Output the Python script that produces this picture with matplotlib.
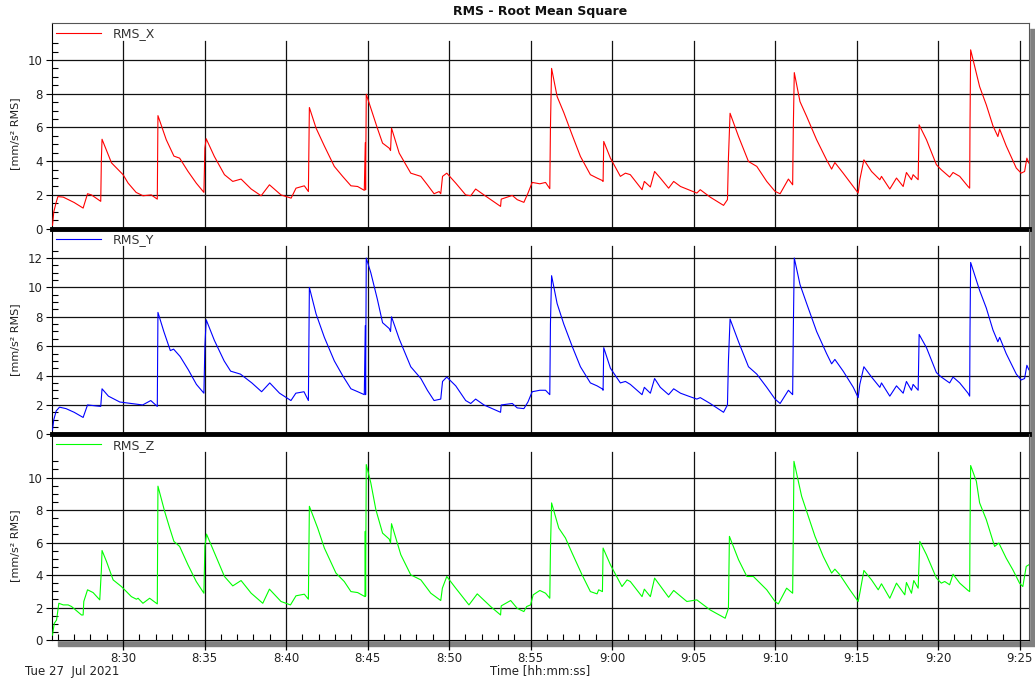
import matplotlib.pyplot as plt
from matplotlib.patches import Rectangle
from matplotlib.ticker import FixedLocator, MultipleLocator, FuncFormatter

# time in minutes after 8:00, value in mm/s² RMS
rms_x_points = [
    (25.67, 0.2), (25.75, 1.0), (25.88, 1.5), (26.0, 1.9), (26.33, 1.87), (27.0, 1.55),
    (27.55, 1.22), (27.82, 2.07), (28.06, 2.0), (28.63, 1.62), (28.67, 4.14), (28.71, 5.3),
    (29.29, 3.9), (30.0, 3.2), (30.31, 2.7), (30.8, 2.15), (31.22, 1.95), (31.73, 2.0),
    (32.1, 1.75), (32.14, 6.7), (32.65, 5.27), (33.12, 4.3), (33.47, 4.18), (33.98, 3.4),
    (34.49, 2.7), (34.96, 2.15), (35.02, 4.77), (35.1, 5.33), (35.6, 4.28), (36.22, 3.2),
    (36.73, 2.8), (37.24, 2.94), (37.86, 2.35), (38.47, 1.95), (38.98, 2.6), (39.69, 2.0),
    (40.31, 1.81), (40.61, 2.4), (41.12, 2.54), (41.37, 2.2), (41.43, 7.18), (41.84, 5.96),
    (42.35, 4.9), (42.96, 3.69), (43.47, 3.1), (43.98, 2.54), (44.39, 2.5), (44.8, 2.27),
    (44.86, 5.1), (44.88, 2.3), (44.9, 5.1), (44.92, 7.97), (45.2, 7.14), (45.6, 5.96),
    (45.92, 5.07), (46.33, 4.77), (46.41, 4.63), (46.47, 5.96), (46.94, 4.48), (47.65, 3.29),
    (48.27, 3.1), (48.67, 2.6), (49.08, 2.07), (49.39, 2.2), (49.49, 2.07), (49.6, 3.1),
    (49.86, 3.29), (50.41, 2.7), (51.02, 2.0), (51.33, 1.95), (51.63, 2.35), (52.14, 2.0),
    (53.16, 1.32), (53.2, 1.75), (53.88, 1.97), (54.18, 1.72), (54.59, 1.56), (54.84, 2.1),
    (55.1, 2.74), (55.57, 2.66), (55.92, 2.74), (56.18, 2.37), (56.22, 6.0), (56.29, 9.5),
    (56.63, 7.83), (57.04, 6.88), (57.55, 5.56), (58.06, 4.28), (58.67, 3.2), (59.08, 3.0),
    (59.39, 2.86), (59.45, 2.8), (59.49, 5.17), (59.9, 4.18), (60.51, 3.1), (60.82, 3.29),
    (61.12, 3.2), (61.84, 2.31), (61.98, 2.8), (62.35, 2.47), (62.61, 3.39), (62.96, 3.0),
    (63.47, 2.4), (63.78, 2.8), (64.2, 2.5), (64.69, 2.31), (65.2, 2.11), (65.41, 2.31),
    (66.02, 1.87), (66.84, 1.38), (67.08, 1.72), (67.14, 4.18), (67.24, 6.84), (67.76, 5.46),
    (68.37, 3.98), (68.88, 3.69), (69.49, 2.8), (70.0, 2.21), (70.31, 2.07), (70.82, 2.94),
    (71.08, 2.6), (71.12, 5.96), (71.18, 9.25), (71.53, 7.53), (71.94, 6.65), (72.55, 5.27),
    (73.16, 4.08), (73.47, 3.53), (73.67, 3.92), (74.18, 3.29), (74.8, 2.5), (75.1, 2.11),
    (75.2, 2.9), (75.45, 4.08), (75.92, 3.39), (76.43, 2.9), (76.53, 3.1), (77.04, 2.35),
    (77.45, 3.0), (77.86, 2.5), (78.06, 3.33), (78.37, 2.9), (78.47, 3.2), (78.78, 2.9),
    (78.84, 6.15), (79.29, 5.27), (79.9, 3.79), (80.2, 3.49), (80.71, 3.06), (80.92, 3.33),
    (81.33, 3.1), (81.84, 2.5), (81.94, 2.4), (81.96, 6.05), (82.0, 10.6), (82.55, 8.42),
    (82.96, 7.34), (83.37, 6.09), (83.67, 5.46), (83.78, 5.9), (84.18, 4.91), (84.8, 3.59),
    (85.1, 3.29), (85.31, 3.39), (85.45, 4.18), (85.57, 3.89),
]

rms_y_points = [
    (25.67, 0.3), (25.75, 1.0), (25.9, 1.6), (26.1, 1.85), (26.5, 1.75), (27.0, 1.5),
    (27.55, 1.15), (27.82, 2.0), (28.2, 1.95), (28.63, 1.9), (28.71, 3.1), (29.1, 2.6),
    (29.8, 2.2), (30.5, 2.1), (31.2, 2.0), (31.7, 2.3), (32.1, 1.9), (32.14, 8.3),
    (32.5, 7.0), (32.9, 5.7), (33.1, 5.8), (33.5, 5.3), (34.0, 4.4), (34.5, 3.4),
    (34.96, 2.8), (35.02, 6.0), (35.1, 7.8), (35.6, 6.4), (36.2, 5.0), (36.6, 4.3),
    (37.2, 4.1), (37.9, 3.5), (38.5, 2.9), (39.0, 3.5), (39.6, 2.8), (40.3, 2.3),
    (40.6, 2.8), (41.1, 2.9), (41.37, 2.3), (41.43, 10.0), (41.84, 8.2), (42.35, 6.6),
    (42.96, 5.0), (43.47, 4.0), (43.98, 3.1), (44.4, 2.9), (44.8, 2.7), (44.86, 7.4),
    (44.88, 2.7), (44.9, 7.4), (44.92, 12.0), (45.2, 11.0), (45.6, 9.2), (45.92, 7.6),
    (46.33, 7.2), (46.41, 7.0), (46.47, 8.0), (46.94, 6.5), (47.65, 4.6), (48.27, 3.8),
    (48.67, 3.0), (49.08, 2.3), (49.49, 2.4), (49.6, 3.6), (49.86, 3.9), (50.41, 3.3),
    (51.02, 2.3), (51.33, 2.1), (51.63, 2.4), (52.14, 2.0), (53.16, 1.5), (53.2, 2.0),
    (53.88, 2.1), (54.18, 1.8), (54.59, 1.75), (54.84, 2.2), (55.1, 2.9), (55.57, 3.0),
    (55.92, 3.0), (56.18, 2.7), (56.22, 7.5), (56.29, 10.8), (56.63, 8.9), (57.04, 7.5),
    (57.55, 6.0), (58.06, 4.6), (58.67, 3.5), (59.08, 3.3), (59.39, 3.1), (59.45, 3.0),
    (59.49, 5.9), (59.9, 4.5), (60.51, 3.5), (60.82, 3.6), (61.12, 3.4), (61.84, 2.7),
    (61.98, 3.2), (62.35, 2.8), (62.61, 3.8), (62.96, 3.2), (63.47, 2.7), (63.78, 3.1),
    (64.2, 2.8), (64.69, 2.6), (65.2, 2.4), (65.41, 2.5), (66.02, 2.1), (66.84, 1.5),
    (67.08, 2.0), (67.14, 5.0), (67.24, 7.85), (67.76, 6.3), (68.37, 4.6), (68.88, 4.1),
    (69.49, 3.2), (70.0, 2.4), (70.31, 2.1), (70.82, 3.0), (71.08, 2.7), (71.12, 7.0),
    (71.18, 12.0), (71.53, 10.2), (71.94, 8.9), (72.55, 7.0), (73.16, 5.5), (73.47, 4.8),
    (73.67, 5.1), (74.18, 4.3), (74.8, 3.2), (75.1, 2.5), (75.2, 3.4), (75.45, 4.6),
    (75.92, 3.9), (76.43, 3.2), (76.53, 3.5), (77.04, 2.6), (77.45, 3.3), (77.86, 2.8),
    (78.06, 3.6), (78.37, 3.0), (78.47, 3.4), (78.78, 3.0), (78.84, 6.8), (79.29, 5.9),
    (79.9, 4.2), (80.2, 3.9), (80.71, 3.5), (80.92, 3.9), (81.33, 3.5), (81.84, 2.8),
    (81.94, 2.6), (81.96, 7.0), (82.0, 11.7), (82.55, 9.8), (82.96, 8.6), (83.37, 7.1),
    (83.67, 6.3), (83.78, 6.6), (84.18, 5.5), (84.8, 4.1), (85.1, 3.7), (85.31, 3.8),
    (85.45, 4.7), (85.57, 4.4),
]

rms_z_points = [
    (25.67, 0.3), (25.78, 1.03), (25.92, 1.23), (26.06, 2.26), (26.33, 2.16), (26.63, 2.16),
    (26.84, 2.06), (27.45, 1.54), (27.55, 1.54), (27.59, 2.37), (27.82, 3.09), (28.16, 2.92),
    (28.57, 2.47), (28.67, 4.32), (28.71, 5.51), (28.98, 4.84), (29.39, 3.7), (29.9, 3.29),
    (30.51, 2.67), (30.82, 2.51), (30.92, 2.57), (31.22, 2.26), (31.63, 2.57), (32.1, 2.22),
    (32.14, 9.47), (32.55, 7.92), (32.86, 6.89), (33.12, 6.07), (33.47, 5.76), (33.98, 4.63),
    (34.49, 3.6), (34.96, 2.88), (35.02, 5.76), (35.12, 6.52), (35.61, 5.35), (36.22, 3.91),
    (36.73, 3.33), (37.24, 3.66), (37.86, 2.88), (38.57, 2.26), (38.98, 3.13), (39.69, 2.37),
    (40.27, 2.16), (40.61, 2.72), (41.12, 2.82), (41.37, 2.51), (41.43, 8.23), (41.94, 6.89),
    (42.35, 5.66), (43.06, 4.12), (43.57, 3.6), (43.98, 2.98), (44.39, 2.92), (44.84, 2.67),
    (44.86, 6.69), (44.88, 2.7), (44.9, 6.69), (44.92, 10.8), (45.2, 9.67), (45.51, 8.02),
    (45.92, 6.58), (46.33, 6.21), (46.41, 5.97), (46.47, 7.16), (47.04, 5.25), (47.65, 4.01),
    (48.27, 3.7), (48.88, 2.88), (49.49, 2.43), (49.59, 3.19), (49.86, 3.91), (50.41, 3.19),
    (51.22, 2.16), (51.73, 2.84), (52.55, 2.06), (53.16, 1.54), (53.2, 2.1), (53.78, 2.43),
    (54.18, 1.95), (54.59, 1.75), (54.76, 2.06), (55.0, 2.16), (55.16, 2.78), (55.57, 3.05),
    (55.92, 2.88), (56.18, 2.57), (56.22, 5.56), (56.29, 8.44), (56.73, 6.89), (57.14, 6.28),
    (57.55, 5.35), (58.16, 4.01), (58.67, 2.98), (59.08, 2.84), (59.18, 3.09), (59.41, 2.98),
    (59.45, 5.66), (59.9, 4.63), (60.61, 3.29), (60.92, 3.7), (61.12, 3.6), (61.84, 2.67),
    (61.98, 3.13), (62.35, 2.67), (62.61, 3.81), (63.47, 2.63), (63.78, 3.05), (64.59, 2.37),
    (65.2, 2.47), (66.02, 1.85), (66.94, 1.34), (67.14, 1.95), (67.2, 6.38), (67.76, 4.94),
    (68.27, 3.91), (68.67, 3.91), (69.49, 3.09), (70.0, 2.37), (70.2, 2.22), (70.71, 3.19),
    (71.08, 2.88), (71.12, 6.58), (71.16, 11.0), (71.63, 8.85), (71.94, 7.92), (72.45, 6.38),
    (72.96, 5.14), (73.47, 4.12), (73.67, 4.36), (73.98, 4.01), (74.59, 3.09), (75.1, 2.37),
    (75.2, 2.88), (75.45, 4.28), (75.92, 3.7), (76.33, 3.09), (76.53, 3.46), (77.04, 2.57),
    (77.45, 3.5), (77.96, 2.78), (78.06, 3.54), (78.37, 2.88), (78.51, 3.66), (78.78, 3.19),
    (78.88, 6.07), (79.29, 5.25), (79.9, 3.81), (80.2, 3.5), (80.41, 3.6), (80.71, 3.4),
    (80.92, 4.05), (81.33, 3.5), (81.84, 3.05), (81.94, 2.98), (81.96, 6.58), (82.0, 10.74),
    (82.35, 9.77), (82.55, 8.44), (82.96, 7.41), (83.47, 5.76), (83.73, 5.97), (84.18, 5.04),
    (84.59, 4.32), (85.0, 3.5), (85.2, 3.29), (85.41, 4.53), (85.57, 4.63),
]

series_names = ["RMS_X", "RMS_Y", "RMS_Z"]
series_colors = ["#ff0000", "#0000ff", "#00ff00"]
series_points = [rms_x_points, rms_y_points, rms_z_points]
y_tops = [12.19, 14.0, 12.66]          # axis top of each panel
y_major_max = [10, 12, 10]
y_minor_max = [11.0, 12.5, 11.0]
x_range = (25.64, 85.58)
x_major = list(range(30, 90, 5))

W, H = 1035, 684
LEFT, RIGHT, TOP, BOTTOM = 52, 1029, 23, 640


def fx(px):
    return px / W


def fy(py):
    return 1 - py / H


def time_fmt(m, pos=None):
    m = int(round(m))
    return f"{8 + m // 60}:{m % 60:02d}"


plt.rcParams['font.family'] = ['DejaVu Sans']
fig = plt.figure(figsize=(W / 100, H / 100), dpi=100)

# drop shadow + white plot area
fig.patches.append(Rectangle((fx(58), fy(646)), fx(1035) - fx(58), fy(29) - fy(646),
                             transform=fig.transFigure, color="#808080", zorder=-2))
fig.patches.append(Rectangle((fx(LEFT), fy(BOTTOM)), fx(RIGHT) - fx(LEFT), fy(TOP) - fy(BOTTOM),
                             transform=fig.transFigure, color="white", zorder=-1))

panel_h = (BOTTOM - TOP) / 3
band = 1 - 17.5 / panel_h   # vertical grid stops below the legend row

for i in range(3):
    ax = fig.add_axes([fx(LEFT), fy(TOP + (i + 1) * panel_h), fx(RIGHT) - fx(LEFT), panel_h / H])
    ax.set_facecolor("none")
    ts = [p[0] for p in series_points[i]]
    vs = [p[1] for p in series_points[i]]
    ax.plot(ts, vs, color=series_colors[i], lw=0.8, label=series_names[i], zorder=3)

    ax.set_xlim(*x_range)
    ax.set_ylim(0, y_tops[i])

    # grid
    for yv in range(2, y_major_max[i] + 1, 2):
        ax.axhline(yv, color="#111111", lw=0.9, zorder=1)
    for xv in x_major:
        ax.axvline(xv, ymin=0, ymax=band, color="#111111", lw=0.9, zorder=1)

    # y ticks
    ax.set_yticks(range(0, y_major_max[i] + 1, 2))
    minors = [k * 0.5 for k in range(1, int(y_minor_max[i] * 2) + 1) if k % 4 != 0]
    ax.yaxis.set_minor_locator(FixedLocator(minors))
    ax.tick_params(axis="y", which="major", direction="out", length=4.5, width=0.8,
                   labelsize=8.5, labelcolor="#222222", pad=2)
    ax.tick_params(axis="y", which="minor", direction="in", length=4, width=0.8)
    ax.set_ylabel("[mm/s² RMS]", fontsize=8, color="#222222")
    ax.yaxis.set_label_coords(-0.033, 0.46)

    # x ticks
    ax.xaxis.set_major_locator(FixedLocator(x_major))
    ax.xaxis.set_major_formatter(FuncFormatter(time_fmt))
    if i == 2:
        ax.xaxis.set_minor_locator(MultipleLocator(1))
        ax.tick_params(axis="x", which="major", direction="out", length=7, width=0.9,
                       labelsize=8.5, labelcolor="#222222", pad=2)
        ax.tick_params(axis="x", which="minor", direction="in", length=4, width=0.8)
    else:
        ax.tick_params(axis="x", which="both", bottom=False, labelbottom=False)

    # frame
    ax.spines["top"].set_visible(i == 0)
    ax.spines["top"].set_color("#555555")
    ax.spines["right"].set_color("#555555")
    ax.spines["left"].set_color("black")
    if i < 2:
        ax.spines["bottom"].set_linewidth(3.5)
    ax.spines["bottom"].set_color("black")

    leg = ax.legend(loc="upper left", bbox_to_anchor=(0, 1), borderaxespad=0, borderpad=0.35,
                    handlelength=3.6, handletextpad=0.9, frameon=False, fontsize=9)
    for txt in leg.get_texts():
        txt.set_color("#333333")

fig.text(0.5 * (fx(LEFT) + fx(RIGHT)), fy(12), "RMS - Root Mean Square", ha="center", va="center",
         fontsize=9, fontweight="bold", color="#111111")
fig.text(fx(25), fy(671), "Tue 27  Jul 2021", ha="left", va="center", fontsize=8.5, color="#222222")
fig.text(0.5 * (fx(LEFT) + fx(RIGHT)), fy(671), "Time [hh:mm:ss]", ha="center", va="center",
         fontsize=8.5, color="#222222")

fig.savefig("out.png", dpi=100)
